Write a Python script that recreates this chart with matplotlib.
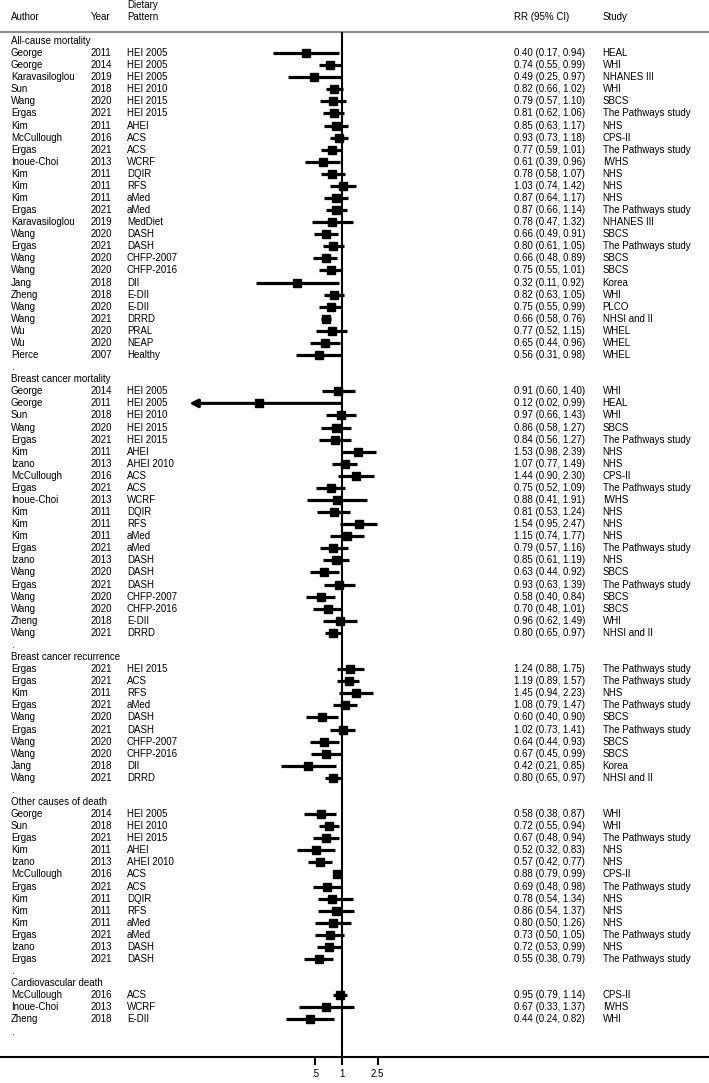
import matplotlib
matplotlib.use("Agg")
import matplotlib.pyplot as plt
import matplotlib.transforms as mtransforms
from matplotlib.ticker import NullLocator

plt.rcParams['font.family'] = ['Liberation Sans', 'DejaVu Sans']

# ---- data ----
groups = ["All-cause mortality", "Breast cancer mortality", "Breast cancer recurrence",
          "Other causes of death", "Cardiovascular death"]
group_sizes = [26, 21, 10, 13, 3]

authors = [
    # all-cause
    "George", "George", "Karavasiloglou", "Sun", "Wang", "Ergas", "Kim", "McCullough", "Ergas",
    "Inoue-Choi", "Kim", "Kim", "Kim", "Ergas", "Karavasiloglou", "Wang", "Ergas", "Wang", "Wang",
    "Jang", "Zheng", "Wang", "Wang", "Wu", "Wu", "Pierce",
    # breast cancer mortality
    "George", "George", "Sun", "Wang", "Ergas", "Kim", "Izano", "McCullough", "Ergas", "Inoue-Choi",
    "Kim", "Kim", "Kim", "Ergas", "Izano", "Wang", "Ergas", "Wang", "Wang", "Zheng", "Wang",
    # recurrence
    "Ergas", "Ergas", "Kim", "Ergas", "Wang", "Ergas", "Wang", "Wang", "Jang", "Wang",
    # other causes
    "George", "Sun", "Ergas", "Kim", "Izano", "McCullough", "Ergas", "Kim", "Kim", "Kim", "Ergas",
    "Izano", "Ergas",
    # cardiovascular
    "McCullough", "Inoue-Choi", "Zheng",
]
years = [
    2011, 2014, 2019, 2018, 2020, 2021, 2011, 2016, 2021, 2013, 2011, 2011, 2011, 2021, 2019, 2020,
    2021, 2020, 2020, 2018, 2018, 2020, 2021, 2020, 2020, 2007,
    2014, 2011, 2018, 2020, 2021, 2011, 2013, 2016, 2021, 2013, 2011, 2011, 2011, 2021, 2013, 2020,
    2021, 2020, 2020, 2018, 2021,
    2021, 2021, 2011, 2021, 2020, 2021, 2020, 2020, 2018, 2021,
    2014, 2018, 2021, 2011, 2013, 2016, 2021, 2011, 2011, 2011, 2021, 2013, 2021,
    2016, 2013, 2018,
]
patterns = [
    "HEI 2005", "HEI 2005", "HEI 2005", "HEI 2010", "HEI 2015", "HEI 2015", "AHEI", "ACS", "ACS",
    "WCRF", "DQIR", "RFS", "aMed", "aMed", "MedDiet", "DASH", "DASH", "CHFP-2007", "CHFP-2016",
    "DII", "E-DII", "E-DII", "DRRD", "PRAL", "NEAP", "Healthy",
    "HEI 2005", "HEI 2005", "HEI 2010", "HEI 2015", "HEI 2015", "AHEI", "AHEI 2010", "ACS", "ACS",
    "WCRF", "DQIR", "RFS", "aMed", "aMed", "DASH", "DASH", "DASH", "CHFP-2007", "CHFP-2016",
    "E-DII", "DRRD",
    "HEI 2015", "ACS", "RFS", "aMed", "DASH", "DASH", "CHFP-2007", "CHFP-2016", "DII", "DRRD",
    "HEI 2005", "HEI 2010", "HEI 2015", "AHEI", "AHEI 2010", "ACS", "ACS", "DQIR", "RFS", "aMed",
    "aMed", "DASH", "DASH",
    "ACS", "WCRF", "E-DII",
]
rr = [
    0.40, 0.74, 0.49, 0.82, 0.79, 0.81, 0.85, 0.93, 0.77, 0.61, 0.78, 1.03, 0.87, 0.87, 0.78, 0.66,
    0.80, 0.66, 0.75, 0.32, 0.82, 0.75, 0.66, 0.77, 0.65, 0.56,
    0.91, 0.12, 0.97, 0.86, 0.84, 1.53, 1.07, 1.44, 0.75, 0.88, 0.81, 1.54, 1.15, 0.79, 0.85, 0.63,
    0.93, 0.58, 0.70, 0.96, 0.80,
    1.24, 1.19, 1.45, 1.08, 0.60, 1.02, 0.64, 0.67, 0.42, 0.80,
    0.58, 0.72, 0.67, 0.52, 0.57, 0.88, 0.69, 0.78, 0.86, 0.80, 0.73, 0.72, 0.55,
    0.95, 0.67, 0.44,
]
ci_low = [
    0.17, 0.55, 0.25, 0.66, 0.57, 0.62, 0.63, 0.73, 0.59, 0.39, 0.58, 0.74, 0.64, 0.66, 0.47, 0.49,
    0.61, 0.48, 0.55, 0.11, 0.63, 0.55, 0.58, 0.52, 0.44, 0.31,
    0.60, 0.02, 0.66, 0.58, 0.56, 0.98, 0.77, 0.90, 0.52, 0.41, 0.53, 0.95, 0.74, 0.57, 0.61, 0.44,
    0.63, 0.40, 0.48, 0.62, 0.65,
    0.88, 0.89, 0.94, 0.79, 0.40, 0.73, 0.44, 0.45, 0.21, 0.65,
    0.38, 0.55, 0.48, 0.32, 0.42, 0.79, 0.48, 0.54, 0.54, 0.50, 0.50, 0.53, 0.38,
    0.79, 0.33, 0.24,
]
ci_high = [
    0.94, 0.99, 0.97, 1.02, 1.10, 1.06, 1.17, 1.18, 1.01, 0.96, 1.07, 1.42, 1.17, 1.14, 1.32, 0.91,
    1.05, 0.89, 1.01, 0.92, 1.05, 0.99, 0.76, 1.15, 0.96, 0.98,
    1.40, 0.99, 1.43, 1.27, 1.27, 2.39, 1.49, 2.30, 1.09, 1.91, 1.24, 2.47, 1.77, 1.16, 1.19, 0.92,
    1.39, 0.84, 1.01, 1.49, 0.97,
    1.75, 1.57, 2.23, 1.47, 0.90, 1.41, 0.93, 0.99, 0.85, 0.97,
    0.87, 0.94, 0.94, 0.83, 0.77, 0.99, 0.98, 1.34, 1.37, 1.26, 1.05, 0.99, 0.79,
    1.14, 1.37, 0.82,
]
studies = [
    "HEAL", "WHI", "NHANES III", "WHI", "SBCS", "The Pathways study", "NHS", "CPS-II",
    "The Pathways study", "IWHS", "NHS", "NHS", "NHS", "The Pathways study", "NHANES III", "SBCS",
    "The Pathways study", "SBCS", "SBCS", "Korea", "WHI", "PLCO", "NHSI and II", "WHEL", "WHEL", "WHEL",
    "WHI", "HEAL", "WHI", "SBCS", "The Pathways study", "NHS", "NHS", "CPS-II", "The Pathways study",
    "IWHS", "NHS", "NHS", "NHS", "The Pathways study", "NHS", "SBCS", "The Pathways study", "SBCS",
    "SBCS", "WHI", "NHSI and II",
    "The Pathways study", "The Pathways study", "NHS", "The Pathways study", "SBCS",
    "The Pathways study", "SBCS", "SBCS", "Korea", "NHSI and II",
    "WHI", "WHI", "The Pathways study", "NHS", "NHS", "CPS-II", "The Pathways study", "NHS", "NHS",
    "NHS", "The Pathways study", "NHS", "The Pathways study",
    "CPS-II", "IWHS", "WHI",
]
tick_values = [0.5, 1, 2.5]
tick_labels = [".5", "1", "2.5"]

# ---- layout ----
FS = 7
ARROW_FLOOR = 0.05      # CIs below this get an arrow head
col_author, col_year, col_pattern = 0.0155, 0.128, 0.179
col_rr, col_study = 0.725, 0.850

fig = plt.figure(figsize=(7.09, 10.83), dpi=100)
ax = fig.add_axes([0, 0, 1, 1])
ax.set_xscale('log')
ax.set_xlim(1.56e-4, 1.223e4)
ax.set_ylim(86.26, -3.39)
tr = mtransforms.blended_transform_factory(ax.transAxes, ax.transData)


def put(x, y, s):
    ax.text(x, y, s, transform=tr, fontsize=FS, va='center')


# header
put(col_author, -1.99, "Author")
put(col_year, -1.99, "Year")
put(col_pattern, -2.98, "Dietary")
put(col_pattern, -1.99, "Pattern")
put(col_rr, -1.99, "RR (95% CI)")
put(col_study, -1.99, "Study")
ax.axhline(-0.75, color='#8c8c8c', lw=1.6)

axis_y = 84.1
ax.vlines(1, -0.75, axis_y, color='black', lw=1.5)

row = 0
k = 0
for g, n in zip(groups, group_sizes):
    put(col_author, row, g)
    row += 1
    for _ in range(n):
        put(col_author, row, authors[k])
        put(col_year, row, str(years[k]))
        put(col_pattern, row, patterns[k])
        put(col_rr, row, f"{rr[k]:.2f} ({ci_low[k]:.2f}, {ci_high[k]:.2f})")
        put(col_study, row, studies[k])
        if ci_low[k] < ARROW_FLOOR:
            ax.annotate('', xy=(ci_low[k], row), xytext=(ci_high[k], row),
                        arrowprops=dict(arrowstyle='-|>', color='black', lw=2.2,
                                        mutation_scale=12, shrinkA=0, shrinkB=0))
        else:
            ax.plot([ci_low[k], ci_high[k]], [row, row], color='black', lw=2.3,
                    solid_capstyle='butt')
        ax.plot(rr[k], row, 's', color='black', markersize=5.5)
        row += 1
        k += 1
    put(col_author, row, ".")
    row += 1

# bottom axis
for s in ['left', 'right', 'top']:
    ax.spines[s].set_visible(False)
ax.spines['bottom'].set_position(('data', axis_y))
ax.spines['bottom'].set_linewidth(1.5)
ax.set_xticks(tick_values, tick_labels)
ax.xaxis.set_minor_locator(NullLocator())
ax.tick_params(axis='x', direction='out', length=6, width=1.5, labelsize=FS, pad=3)
ax.set_yticks([])

fig.savefig("out.png", dpi=100)
